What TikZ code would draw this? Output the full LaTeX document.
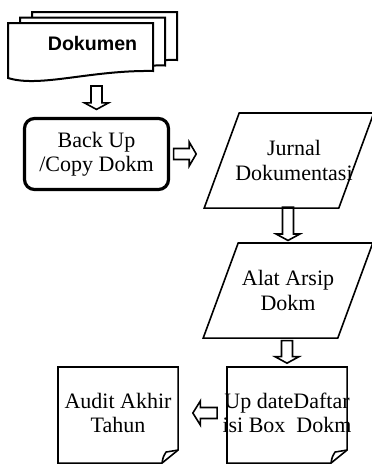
\documentclass[tikz,border=0pt]{standalone}
\usepackage{fontspec}
\setmainfont{Liberation Serif}
\setsansfont{Liberation Sans}
\usetikzlibrary{calc}

\tikzset{
  down block/.style={to path={let \p1=(\tikztostart), \p2=(\tikztotarget) in
    (\x2-2.75pt,\y1) -- (\x2-2.75pt,\y2+3.25pt) -- (\x2-6pt,\y2+3.25pt) -- (\x2,\y2)
    -- (\x2+6pt,\y2+3.25pt) -- (\x2+2.75pt,\y2+3.25pt) -- (\x2+2.75pt,\y1) -- cycle}},
  right block/.style={to path={let \p1=(\tikztostart), \p2=(\tikztotarget) in
    (\x1,\y1-2.75pt) -- (\x2-3.5pt,\y1-2.75pt) -- (\x2-3.5pt,\y1-6pt) -- (\x2,\y1)
    -- (\x2-3.5pt,\y1+6pt) -- (\x2-3.5pt,\y1+2.75pt) -- (\x1,\y1+2.75pt) -- cycle}},
  left block/.style={to path={let \p1=(\tikztostart), \p2=(\tikztotarget) in
    (\x1,\y1-2.75pt) -- (\x2+3.75pt,\y1-2.75pt) -- (\x2+3.75pt,\y1-6pt) -- (\x2,\y1)
    -- (\x2+3.75pt,\y1+6pt) -- (\x2+3.75pt,\y1+2.75pt) -- (\x1,\y1+2.75pt) -- cycle}},
}

\begin{document}
\begin{tikzpicture}[x=0.5pt,y=-0.5pt,line width=0.8pt,
    font=\fontsize{11}{12.25}\selectfont,
    proc box/.style={rectangle,rounded corners=5pt,draw,line width=1.6pt,
                     minimum width=72pt,minimum height=35.5pt,align=center},
    io box/.style={rectangle,minimum width=66.5pt,minimum height=46.75pt,
                   inner sep=0pt,align=center},
    note box/.style={rectangle,minimum width=59.25pt,minimum height=47.25pt,
                     inner sep=0pt,align=center}]

  \useasboundingbox (0,0) rectangle (371,466);

  % stack of documents
  \foreach \dx/\dy in {24/-11,12/-5.5,0/0}
    \draw[line width=1pt,fill=white,shift={(\dx,\dy)}]
      (8,23) -- (153,23) -- (153,71) .. controls (90,70) and (40,88) .. (8,78) -- cycle;
  \node (doc) at (92.5,43) {\fontsize{9.8}{12}\sffamily\bfseries Dokumen};

  \node[proc box] (backup) at (96.5,154) {Back Up\\/Copy Dokm};
  \node[io box] (jurnal) at (289,160.5) {\hspace{5pt}Jurnal\\\hspace{5pt}Dokumentasi};
  \node[io box] (alat) at (288,290.5) {Alat Arsip\\Dokm\hspace{4pt}};
  \node[note box] (update) at (287,413) {\makebox[0pt]{Up dateDaftar}\\\makebox[0pt]{isi Box~ Dokm}};
  \node[note box] (audit) at (118,413) {Audit Akhir\\Tahun};

  % slanted data boxes
  \foreach \n in {jurnal,alat}
    \draw ([xshift=8.75pt]\n.north west) -- ([xshift=8.75pt]\n.north east)
      -- ([xshift=-8.75pt]\n.south east) -- ([xshift=-8.75pt]\n.south west) -- cycle;

  % folded sheets
  \foreach \n in {update,audit}{
    \draw ([yshift=-1pt]\n.north west) -- ([yshift=-1pt]\n.north east) -- ([yshift=5.5pt]\n.south east)
      -- ([xshift=-8pt,yshift=-1pt]\n.south east) -- ([yshift=-1pt]\n.south west) -- cycle;
    \draw ([xshift=-8pt,yshift=-1pt]\n.south east) .. controls ([xshift=-7.5pt,yshift=2pt]\n.south east)
      .. ([xshift=-6pt,yshift=4.5pt]\n.south east) -- ([yshift=5.5pt]\n.south east);
  }

  % hollow arrows
  \draw ([yshift=-21.5pt]doc.center) to[down block] ([yshift=3.75pt]backup.north);
  \draw ([xshift=1.75pt]backup.east) to[right block] ([xshift=-12.75pt]jurnal.west);
  \draw ([yshift=0.4pt]jurnal.south) to[down block] ([yshift=1.25pt]alat.north);
  \draw ([yshift=-1.25pt]alat.south) to[down block] ([yshift=0.9pt]update.north);
  \draw ([xshift=-4.9pt]update.west) to[left block] ([xshift=7.4pt]audit.east);
\end{tikzpicture}
\end{document}
